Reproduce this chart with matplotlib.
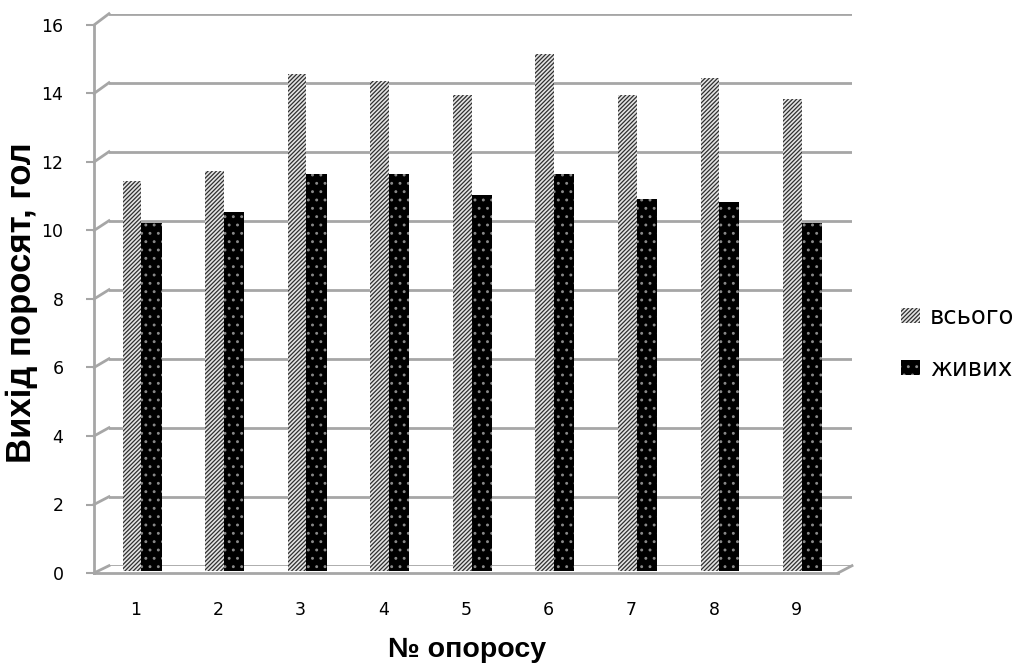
import matplotlib
matplotlib.use("Agg")
import matplotlib.pyplot as plt
from matplotlib.lines import Line2D
from matplotlib.transforms import ScaledTranslation

categories = ["1", "2", "3", "4", "5", "6", "7", "8", "9"]
total = [11.3, 11.6, 14.4, 14.2, 13.8, 15.0, 13.8, 14.3, 13.7]
alive = [10.1, 10.4, 11.5, 11.5, 10.9, 11.5, 10.8, 10.7, 10.1]
series_names = ["всього", "живих"]
yticks = [0, 2, 4, 6, 8, 10, 12, 14, 16]
xlabel = "№ опоросу"
ylabel = "Вихід поросят, гол"

plt.rcParams['hatch.linewidth'] = 0.9
W, H = 1024, 664
fig = plt.figure(figsize=(W / 100, H / 100), dpi=100)

def rect(l, t, r, b):
    return [l / W, 1 - b / H, (r - l) / W, (b - t) / H]

grid_c = "#a6a6a6"
# back wall axes
ax = fig.add_axes(rect(109, 13.7, 852, 565.7))
# front frame axes
axf = fig.add_axes(rect(94, 25, 838, 573))
for a in (ax, axf):
    a.set_xlim(0.5, len(categories) + 0.5)
    a.set_ylim(0, 16)
    a.patch.set_visible(False)
ax.axis("off")
ax.set_zorder(2)
axf.set_zorder(1)

for v in yticks:
    ax.axhline(v, color=grid_c, lw=2.0, zorder=0)

for s in ("top", "right"):
    axf.spines[s].set_visible(False)
for s in ("left", "bottom"):
    axf.spines[s].set_color(grid_c)
    axf.spines[s].set_linewidth(2.0)

tick_font = ['DejaVu Sans']
axf.set_yticks(yticks)
axf.set_yticklabels([str(v) for v in yticks], family=tick_font, fontsize=12.5)
axf.set_xticks(range(1, len(categories) + 1))
axf.set_xticklabels(categories, family=tick_font, fontsize=12.5)
axf.tick_params(axis='y', length=6, color=grid_c, width=1.5, pad=16)
axf.tick_params(axis='x', length=0, pad=20)

# diagonal connectors (3-D wall edges)
inv = fig.transFigure.inverted()
x0, x1 = 0.5, len(categories) + 0.5
for v in yticks:
    pf = inv.transform(axf.transData.transform((x0, v)))
    pb = inv.transform(ax.transData.transform((x0, v)))
    fig.add_artist(Line2D([pf[0], pb[0]], [pf[1], pb[1]], color=grid_c, lw=2.0,
                          transform=fig.transFigure))
pf = inv.transform(axf.transData.transform((x1, 0)))
pb = inv.transform(ax.transData.transform((x1, 0)))
fig.add_artist(Line2D([pf[0], pb[0]], [pf[1], pb[1]], color=grid_c, lw=2.0,
                      transform=fig.transFigure))

# bars (placed at mid depth)
xs = list(range(1, len(categories) + 1))
off = ax.transData + ScaledTranslation(-9 / 100, -5.5 / 100, fig.dpi_scale_trans)
b1 = ax.bar([x - 0.225 for x in xs], total, width=0.225, align='edge',
            facecolor="#e4e4e4", edgecolor="#2e2e2e", hatch="////////", linewidth=0,
            label=series_names[0], zorder=3)
b2 = ax.bar(xs, alive, width=0.245, align='edge',
            facecolor="black", edgecolor="#8a8a8a", hatch="..", linewidth=0,
            label=series_names[1], zorder=3)
for p in list(b1) + list(b2):
    p.set_transform(off)
    p.set_clip_on(False)

fig.text(467 / W, 1 - 650 / H, xlabel, ha='center', va='center',
         fontsize=20.5, fontweight='bold', family=['Liberation Sans', 'DejaVu Sans'])
fig.text(22 / W, 1 - 303 / H, ylabel, ha='center', va='center', rotation=90,
         fontsize=25, fontweight='bold', family=['Liberation Sans', 'DejaVu Sans'])

fig.legend(handles=[b1, b2], labels=series_names, loc='center left',
           bbox_to_anchor=(879 / W, 1 - 343 / H), frameon=False,
           prop={'family': tick_font, 'size': 17.5}, handlelength=0.8,
           handleheight=0.55, labelspacing=1.15, handletextpad=0.4)

fig.savefig("out.png", dpi=100)
